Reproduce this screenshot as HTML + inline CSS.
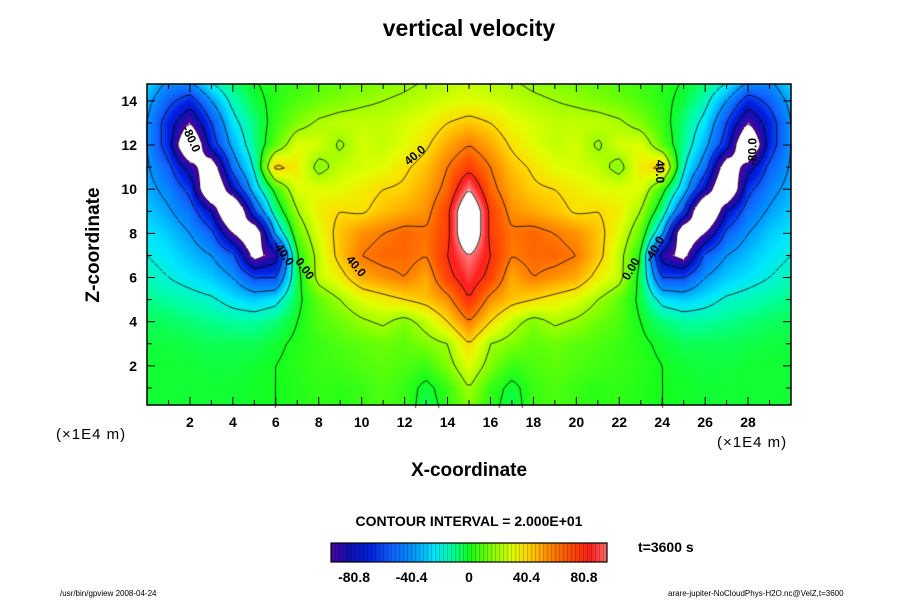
<!DOCTYPE html>
<html><head><meta charset="utf-8"><style>
body{margin:0;background:#fff;width:900px;height:600px;overflow:hidden;font-family:"Liberation Sans",sans-serif;}
#root{position:relative;width:900px;height:600px;}
.t{position:absolute;white-space:nowrap;color:#000;}
</style></head><body>
<div id="root">
<div class="t" style="left:0;width:938px;text-align:center;top:15px;font-size:23px;font-weight:bold;">vertical velocity</div>
<div class="t" style="left:94px;top:245px;font-size:19px;font-weight:bold;transform:translate(-50%,-50%) rotate(-90deg);">Z-coordinate</div>
<div class="t" style="left:0;width:938px;text-align:center;top:460px;font-size:19px;font-weight:bold;">X-coordinate</div>
<div class="t" style="left:56px;top:426px;font-size:15px;letter-spacing:1px;">(×1E4 m)</div>
<div class="t" style="left:717px;top:434px;font-size:15px;letter-spacing:1px;">(×1E4 m)</div>
<div class="t" style="left:0;width:938px;text-align:center;top:513px;font-size:14px;font-weight:bold;">CONTOUR INTERVAL = 2.000E+01</div>
<div class="t" style="left:638px;top:539px;font-size:14px;font-weight:bold;">t=3600 s</div>
<div class="t" style="left:60px;top:589px;font-size:8px;">/usr/bin/gpview 2008-04-24</div>
<div class="t" style="left:668px;top:589px;font-size:8px;">arare-jupiter-NoCloudPhys-H2O.nc@VelZ,t=3600</div>
<canvas id="cv" width="900" height="600" style="position:absolute;left:0;top:0;"></canvas>
<svg id="sv" width="900" height="600" style="position:absolute;left:0;top:0;"></svg>
</div>
<script>
// grid x = 0..30, rows z = 15 down to 0
const xCoords=[0,1,2,3,4,5,6,7,8,9,10,11,12,13,14,15,16,17,18,19,20,21,22,23,24,25,26,27,28,29,30];
const zCoords=[15,14,13,12,11,10,9,8,7,6,5,4,3,2,1,0];
const row15=[-25,-40,-35,-15,-5,0,3,5,8,10,12,15,17,20,22,25,22,20,17,15,12,10,8,5,3,0,-5,-15,-35,-40,-25];
const row14=[-35,-55,-70,-40,-15,-3,3,8,12,15,18,20,22,25,28,30,28,25,22,20,18,15,12,8,3,-3,-15,-40,-70,-55,-35];
const row13=[-40,-70,-100,-60,-25,-8,5,15,22,25,25,25,28,32,40,45,40,32,28,25,25,25,22,15,5,-8,-25,-60,-100,-70,-40];
const row12=[-40,-70,-140,-70,-35,-10,10,30,28,18,28,25,30,38,50,60,50,38,30,25,28,18,28,30,10,-10,-35,-70,-140,-70,-40];
const row11=[-38,-55,-90,-120,-50,-18,45,35,15,25,28,30,38,45,60,75,60,45,38,30,28,25,15,35,45,-18,-50,-120,-90,-55,-38];
const row10=[-35,-45,-65,-140,-80,-30,5,30,30,30,35,40,42,50,65,100,65,50,42,40,35,30,30,30,5,-30,-80,-140,-65,-45,-35];
const row9=[-30,-38,-50,-80,-150,-60,-10,20,35,40,38,45,50,55,75,130,75,55,50,45,38,40,35,20,-10,-60,-150,-80,-50,-38,-30];
const row8=[-25,-30,-40,-55,-100,-130,-35,10,30,45,55,60,65,62,75,130,75,62,65,60,55,45,30,10,-35,-130,-100,-55,-40,-30,-25];
const row7=[-20,-25,-32,-40,-55,-110,-90,0,25,45,60,65,65,60,80,100,80,60,65,65,60,45,25,0,-90,-110,-55,-40,-32,-25,-20];
const row6=[-15,-20,-25,-30,-40,-60,-60,-5,25,35,50,55,60,50,75,90,75,50,60,55,50,35,25,-5,-60,-60,-40,-30,-25,-20,-15];
const row5=[-10,-12,-15,-18,-25,-30,-25,-3,10,20,30,35,40,45,55,80,55,45,40,35,30,20,10,-3,-25,-30,-25,-18,-15,-12,-10];
const row4=[-5,-6,-8,-10,-12,-12,-8,0,8,12,18,22,15,25,40,60,40,25,15,22,18,12,8,0,-8,-12,-12,-10,-8,-6,-5];
const row3=[-3,-3,-4,-5,-5,-5,-2,2,5,8,10,12,10,15,20,40,20,15,10,12,10,8,5,2,-2,-5,-5,-5,-4,-3,-3];
const row2=[-2,-2,-2,-3,-3,-2,0,3,5,6,8,10,8,5,15,30,15,5,8,10,8,6,5,3,0,-2,-3,-3,-2,-2,-2];
const row1=[-2,-2,-2,-2,-2,-1,0,2,4,3,5,8,5,-3,5,20,5,-3,5,8,5,3,4,2,0,-1,-2,-2,-2,-2,-2];
const row0=[-2,-2,-2,-2,-2,-1,0,2,4,3,5,8,5,-5,3,15,3,-5,5,8,5,3,4,2,0,-1,-2,-2,-2,-2,-2];
const rows=[row15,row14,row13,row12,row11,row10,row9,row8,row7,row6,row5,row4,row3,row2,row1,row0];
const xTicks=[2,4,6,8,10,12,14,16,18,20,22,24,26,28];
const zTicks=[2,4,6,8,10,12,14];
const cbTicks=[-80.8,-40.4,0,40.4,80.8];
const cbLabels=["-80.8","-40.4","0","40.4","80.8"];
const contourLevels=[-100,-80,-60,-40,-20,0,20,40,60,80,100];

const L=147,R=791,T=84,B=405;
const X=x=>L+(x-0)*(R-L)/30;
const Z=z=>410-z*22.08;
const Xinv=px=>(px-L)*30/(R-L);
const Zinv=py=>(410-py)/22.08;

const stops=[[-100,[90,0,160]],[-85,[16,16,176]],[-70,[0,32,224]],[-55,[16,96,255]],[-40,[0,150,255]],[-25,[0,230,255]],[-12,[0,255,160]],[0,[20,255,30]],[15,[128,255,0]],[30,[225,255,0]],[40,[255,220,0]],[55,[255,145,0]],[70,[255,80,0]],[85,[255,30,30]],[100,[255,130,130]]];
function col(v){
  if(v>100||v<-100) return [255,255,255];
  for(let i=0;i<stops.length-1;i++){const a=stops[i],b=stops[i+1];
    if(v<=b[0]){const t=(v-a[0])/(b[0]-a[0]);return a[1].map((c,k)=>Math.round(c+(b[1][k]-c)*t));}}
  return stops[stops.length-1][1];
}
function val(x,z){
  const xs=Math.max(0,Math.min(29.999,x)); const zs=Math.max(0,Math.min(14.999,z));
  const i=Math.floor(xs), fx=xs-i; const zr=15-zs; const j=Math.floor(zr), fz=zr-j;
  const a=rows[j][i],b=rows[j][i+1],c=rows[j+1][i],d=rows[j+1][i+1];
  return (a*(1-fx)+b*fx)*(1-fz)+(c*(1-fx)+d*fx)*fz;
}
const cv=document.getElementById('cv'),ctx=cv.getContext('2d');
const img=ctx.createImageData(R-L,B-T);
for(let py=T;py<B;py++)for(let px=L;px<R;px++){
  const c=col(val(Xinv(px+0.5),Zinv(py+0.5)));const k=((py-T)*(R-L)+(px-L))*4;
  img.data[k]=c[0];img.data[k+1]=c[1];img.data[k+2]=c[2];img.data[k+3]=255;}
ctx.putImageData(img,L,T);
const step=4;const nx=Math.ceil((R-L)/step),ny=Math.ceil((B-T)/step);
const F=[];for(let j=0;j<=ny;j++){F.push([]);for(let i=0;i<=nx;i++)F[j].push(val(Xinv(L+i*step),Zinv(T+j*step)));}
ctx.lineWidth=0.8;ctx.strokeStyle='#000';
contourLevels.forEach(lv=>{
  ctx.setLineDash(lv<0?[4,3]:[]);ctx.beginPath();
  for(let j=0;j<ny;j++)for(let i=0;i<nx;i++){
    const v=[F[j][i],F[j][i+1],F[j+1][i+1],F[j+1][i]];
    const p=[[0,0],[1,0],[1,1],[0,1]];const pts=[];
    for(let e=0;e<4;e++){const a=v[e],b=v[(e+1)%4];
      if((a<lv)!==(b<lv)){const t=(lv-a)/(b-a);const pa=p[e],pb=p[(e+1)%4];
        pts.push([L+(i+pa[0]+(pb[0]-pa[0])*t)*step,T+(j+pa[1]+(pb[1]-pa[1])*t)*step]);}}
    for(let q=0;q+1<pts.length;q+=2){ctx.moveTo(pts[q][0],pts[q][1]);ctx.lineTo(pts[q+1][0],pts[q+1][1]);}
  }
  ctx.stroke();
});
ctx.setLineDash([]);
const cbL=331,cbR=607,cbT=543,cbB=562;
for(let px=cbL;px<cbR;px++){const v=-97+(px-cbL)/(cbR-cbL)*194;const c=col(v);
  ctx.fillStyle=`rgb(${c})`;ctx.fillRect(px,cbT,1,cbB-cbT);
  if((px-cbL)%4===0){ctx.fillStyle='rgba(0,0,0,0.25)';ctx.fillRect(px,cbT,1,cbB-cbT);}}
const sv=document.getElementById('sv');const NS='http://www.w3.org/2000/svg';
function mk(tag,at,txt){const e=document.createElementNS(NS,tag);for(const k in at)e.setAttribute(k,at[k]);if(txt!==undefined)e.textContent=txt;sv.appendChild(e);return e;}
let e=mk('rect',{x:L,y:T,width:R-L,height:B-T,fill:'none',stroke:'#000','stroke-width':1.5});


e=mk('rect',{x:cbL,y:cbT,width:cbR-cbL,height:cbB-cbT,fill:'none',stroke:'#000','stroke-width':1.2});


for(let x=1;x<30;x++){const len=xTicks.includes(x)?8:5;
  mk('line',{x1:X(x),x2:X(x),y1:B,y2:B-len,stroke:'#000'});mk('line',{x1:X(x),x2:X(x),y1:T,y2:T+len,stroke:'#000'});}
for(let z=1;z<15;z++){const len=zTicks.includes(z)?8:5;
  mk('line',{x1:L,x2:L+len,y1:Z(z),y2:Z(z),stroke:'#000'});mk('line',{x1:R,x2:R-len,y1:Z(z),y2:Z(z),stroke:'#000'});}
xTicks.forEach(x=>{const t=mk('text',{x:X(x),y:427,'text-anchor':'middle','font-size':14,'font-weight':'bold','font-family':'Liberation Sans'},String(x));
  
  });
zTicks.forEach(z=>{const t=mk('text',{x:137,y:Z(z)+5,'text-anchor':'end','font-size':14,'font-weight':'bold','font-family':'Liberation Sans'},String(z));
  
  });
cbTicks.forEach((v,i)=>{const px=cbL+(v+97)/194*(cbR-cbL);
  const t=mk('text',{x:px,y:582,'text-anchor':'middle','font-size':14,'font-weight':'bold','font-family':'Liberation Sans'},cbLabels[i]);
  
  });
const cl=[["-80.0",1.9,12.2,65],["-40.0",6.2,7.0,55],["0.00",7.2,6.3,55],["40.0",9.6,6.4,50],["40.0",12.6,11.4,-40],["40.0",23.7,10.8,90],["-40.0",23.8,7.2,-60],["0.00",22.7,6.3,-60],["-80.0",28.4,11.7,-90]];
cl.forEach(c=>{const t=mk('text',{x:X(c[1]),y:Z(c[2]),'text-anchor':'middle','font-size':12,'font-weight':'bold','font-family':'Liberation Sans',transform:`rotate(${c[3]} ${X(c[1])} ${Z(c[2])})`},c[0]);
  
  });
</script>
</body></html>
